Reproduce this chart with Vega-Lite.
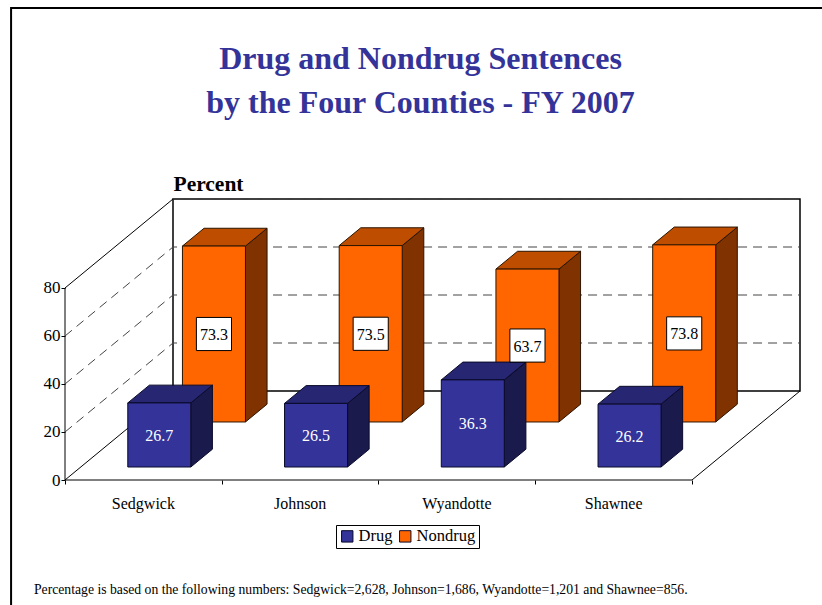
{
"$schema":"https://vega.github.io/schema/vega-lite/v6.json",
"width":735,"height":281,
"autosize":{"type":"none"},
"padding":{"left":65,"top":199,"right":22,"bottom":125},
"background":"white",
"config":{"view":{"stroke":null},"font":"Liberation Serif"},
"title":{"text":["Drug and Nondrug Sentences","by the Four Counties - FY 2007"],"font":"Liberation Serif","fontSize":32,"fontWeight":"bold","color":"#333399","anchor":"middle","dx":-12,"offset":-113,"lineHeight":44},
"datasets":{
"bars":[
{"county":"Sedgwick","series":"Drug","value":26.7},
{"county":"Johnson","series":"Drug","value":26.5},
{"county":"Wyandotte","series":"Drug","value":36.3},
{"county":"Shawnee","series":"Drug","value":26.2},
{"county":"Sedgwick","series":"Nondrug","value":73.3},
{"county":"Johnson","series":"Nondrug","value":73.5},
{"county":"Wyandotte","series":"Nondrug","value":63.7},
{"county":"Shawnee","series":"Nondrug","value":73.8}
],
"frame":[
{"line":"left","k":0,"u":0,"d":0,"v":0},{"line":"left","k":1,"u":0,"d":0,"v":80},{"line":"left","k":2,"u":0,"d":1,"v":80},
{"line":"front","k":0,"u":0,"d":0,"v":0},{"line":"front","k":1,"u":4,"d":0,"v":0},{"line":"front","k":2,"u":4,"d":1,"v":0},
{"line":"diag","k":0,"u":0,"d":0,"v":0},{"line":"diag","k":1,"u":0,"d":1,"v":0}
],
"wall":[
{"line":"back","k":0,"u":0,"d":1,"v":0},{"line":"back","k":1,"u":0,"d":1,"v":80},{"line":"back","k":2,"u":4,"d":1,"v":80},{"line":"back","k":3,"u":4,"d":1,"v":0},{"line":"back","k":4,"u":0,"d":1,"v":0}
],
"grid":[
{"line":"g20","k":0,"u":0,"d":0,"v":20},{"line":"g20","k":1,"u":0,"d":1,"v":20},{"line":"g20","k":2,"u":4,"d":1,"v":20},
{"line":"g40","k":0,"u":0,"d":0,"v":40},{"line":"g40","k":1,"u":0,"d":1,"v":40},{"line":"g40","k":2,"u":4,"d":1,"v":40},
{"line":"g60","k":0,"u":0,"d":0,"v":60},{"line":"g60","k":1,"u":0,"d":1,"v":60},{"line":"g60","k":2,"u":4,"d":1,"v":60},
{"line":"g80","k":0,"u":0,"d":1,"v":80},{"line":"g80","k":1,"u":4,"d":1,"v":80}
]
},
"layer":[
{"data":{"values":[{"a":-0.344,"a2":6,"b":196.7,"b2":-100}]},
 "mark":{"type":"rect","fill":"transparent","stroke":"black","strokeWidth":2,"clip":false},
 "encoding":{"x":{"field":"a","type":"quantitative","scale":{"domain":[0,4.689],"nice":false,"zero":false},"axis":{"values":[0,1,2,3,4],"labels":false,"domain":false,"grid":false,"ticks":true,"tickSize":4,"tickColor":"black","title":null}},
 "x2":{"field":"a2"},
 "y":{"field":"b","type":"quantitative","scale":{"domain":[0,117.08],"nice":false,"zero":false},"axis":{"values":[0,20,40,60,80],"domain":false,"grid":false,"ticks":true,"labels":true,"tickSize":4,"tickColor":"black","labelFont":"Liberation Serif","labelFontSize":17,"labelColor":"black","labelPadding":1,"title":"Percent","titleFont":"Liberation Serif","titleFontSize":21.5,"titleFontWeight":"bold","titleColor":"black","titleAngle":0,"titleAlign":"left","titleBaseline":"alphabetic","titleX":108,"titleY":-9}},
 "y2":{"field":"b2"}}},
{"data":{"name":"frame"},
 "transform":[{"calculate":"datum.u+0.689*datum.d","as":"sx"},{"calculate":"datum.v+37.08*datum.d","as":"sy"}],
 "mark":{"type":"line","color":"black","strokeWidth":1},
 "encoding":{"x":{"field":"sx","type":"quantitative"},"y":{"field":"sy","type":"quantitative"},"detail":{"field":"line"},"order":{"field":"k","type":"quantitative"}}},
{"data":{"name":"wall"},
 "transform":[{"calculate":"datum.u+0.689*datum.d","as":"sx"},{"calculate":"datum.v+37.08*datum.d","as":"sy"}],
 "mark":{"type":"line","color":"black","strokeWidth":1.5},
 "encoding":{"x":{"field":"sx","type":"quantitative"},"y":{"field":"sy","type":"quantitative"},"detail":{"field":"line"},"order":{"field":"k","type":"quantitative"}}},
{"data":{"name":"grid"},
 "transform":[{"calculate":"datum.u+0.689*datum.d","as":"sx"},{"calculate":"datum.v+37.08*datum.d","as":"sy"}],
 "mark":{"type":"line","color":"#444444","strokeWidth":1,"strokeDash":[9,6]},
 "encoding":{"x":{"field":"sx","type":"quantitative"},"y":{"field":"sy","type":"quantitative"},"detail":{"field":"line"},"order":{"field":"k","type":"quantitative"}}},
{"data":{"name":"bars"},
 "transform":[
 {"calculate":"indexof(['Sedgwick','Johnson','Wyandotte','Shawnee'],datum.county)","as":"idx"},
 {"calculate":"datum.series==='Drug'?0.146:0.652","as":"d0"},
 {"calculate":"[1,2]","as":"t"},
 {"flatten":["t"]},
 {"calculate":"datum.d0+(datum.t-1)*0.2","as":"depth"},
 {"calculate":"datum.idx+0.3+0.689*datum.depth","as":"xL"},
 {"calculate":"datum.idx+0.702+0.689*datum.depth","as":"xR"},
 {"calculate":"datum.value+37.08*datum.depth","as":"yT"},
 {"calculate":"37.08*datum.depth","as":"yB"},
 {"calculate":"(datum.xL+datum.xR)/2","as":"xC"},
 {"calculate":"(datum.yT+datum.yB)/2","as":"yC"},
 {"calculate":"datum.xC-0.112","as":"bx"},
 {"calculate":"datum.xC+0.112","as":"bx2"},
 {"calculate":"datum.yC-6.9","as":"by"},
 {"calculate":"datum.yC+6.9","as":"by2"}
 ],
 "layer":[
 {"transform":[{"filter":"datum.series==='Nondrug'"}],
  "layer":[
  {"mark":{"type":"area","fill":"#803300","stroke":"#2a1500","strokeWidth":1},
   "encoding":{"x":{"field":"xR","type":"quantitative"},"y":{"field":"yT","type":"quantitative"},"y2":{"field":"yB"},"detail":{"field":"county"}}},
  {"mark":{"type":"area","orient":"horizontal","fill":"#BF4D00","stroke":"#2a1500","strokeWidth":1},
   "encoding":{"y":{"field":"yT","type":"quantitative"},"x":{"field":"xL","type":"quantitative"},"x2":{"field":"xR"},"detail":{"field":"county"}}},
  {"transform":[{"filter":"datum.t===1"}],
   "mark":{"type":"rect","stroke":"#2a1500","strokeWidth":1},
   "encoding":{"x":{"field":"xL","type":"quantitative"},"x2":{"field":"xR"},"y":{"field":"yT","type":"quantitative"},"y2":{"field":"yB"},
   "color":{"field":"series","type":"nominal","scale":{"domain":["Drug","Nondrug"],"range":["#333399","#FF6600"]},"legend":{"title":null,"orient":"none","legendX":271,"legendY":326,"direction":"horizontal","symbolType":"square","symbolSize":130,"symbolStrokeColor":"black","symbolStrokeWidth":1,"symbolOpacity":1,"labelFont":"Liberation Serif","labelFontSize":16.5,"labelColor":"black","labelOffset":3,"columnPadding":4,"strokeColor":"black","fillColor":"white","padding":3,"cornerRadius":0}}}}
  ]},
 {"transform":[{"filter":"datum.series==='Drug'"}],
  "layer":[
  {"mark":{"type":"area","fill":"#1A1A4D","stroke":"#0a0a2a","strokeWidth":1},
   "encoding":{"x":{"field":"xR","type":"quantitative"},"y":{"field":"yT","type":"quantitative"},"y2":{"field":"yB"},"detail":{"field":"county"}}},
  {"mark":{"type":"area","orient":"horizontal","fill":"#262673","stroke":"#0a0a2a","strokeWidth":1},
   "encoding":{"y":{"field":"yT","type":"quantitative"},"x":{"field":"xL","type":"quantitative"},"x2":{"field":"xR"},"detail":{"field":"county"}}},
  {"transform":[{"filter":"datum.t===1"}],
   "mark":{"type":"rect","stroke":"#0a0a2a","strokeWidth":1},
   "encoding":{"x":{"field":"xL","type":"quantitative"},"x2":{"field":"xR"},"y":{"field":"yT","type":"quantitative"},"y2":{"field":"yB"},
   "color":{"field":"series","type":"nominal"}}},
  {"transform":[{"filter":"datum.t===1"}],
   "mark":{"type":"text","font":"Liberation Serif","fontSize":16,"color":"white","dy":1},
   "encoding":{"x":{"field":"xC","type":"quantitative"},"y":{"field":"yC","type":"quantitative"},"text":{"field":"value","type":"quantitative","format":".1f"}}}
  ]},
 {"transform":[{"filter":"datum.series==='Nondrug' && datum.t===1"}],
  "layer":[
  {"mark":{"type":"rect","fill":"white","stroke":"black","strokeWidth":1},
   "encoding":{"x":{"field":"bx","type":"quantitative"},"x2":{"field":"bx2"},"y":{"field":"by","type":"quantitative"},"y2":{"field":"by2"}}},
  {"mark":{"type":"text","font":"Liberation Serif","fontSize":16,"color":"black","dy":1},
   "encoding":{"x":{"field":"xC","type":"quantitative"},"y":{"field":"yC","type":"quantitative"},"text":{"field":"value","type":"quantitative","format":".1f"}}}
  ]},
 {"transform":[{"filter":"datum.series==='Drug' && datum.t===1"},{"calculate":"datum.idx+0.5","as":"lx"},{"calculate":"0","as":"ly"}],
  "mark":{"type":"text","font":"Liberation Serif","fontSize":16,"color":"black","dy":24,"clip":false},
  "encoding":{"x":{"field":"lx","type":"quantitative"},"y":{"field":"ly","type":"quantitative"},"text":{"field":"county","type":"nominal"}}}
 ]},
{"data":{"values":[{"note":"Percentage is based on the following numbers: Sedgwick=2,628, Johnson=1,686, Wyandotte=1,201 and Shawnee=856.","nx":-0.198,"ny":-46}]},
 "mark":{"type":"text","font":"Liberation Serif","fontSize":13.7,"color":"black","align":"left","clip":false},
 "encoding":{"x":{"field":"nx","type":"quantitative"},"y":{"field":"ny","type":"quantitative"},"text":{"field":"note","type":"nominal"}}}
]
}
